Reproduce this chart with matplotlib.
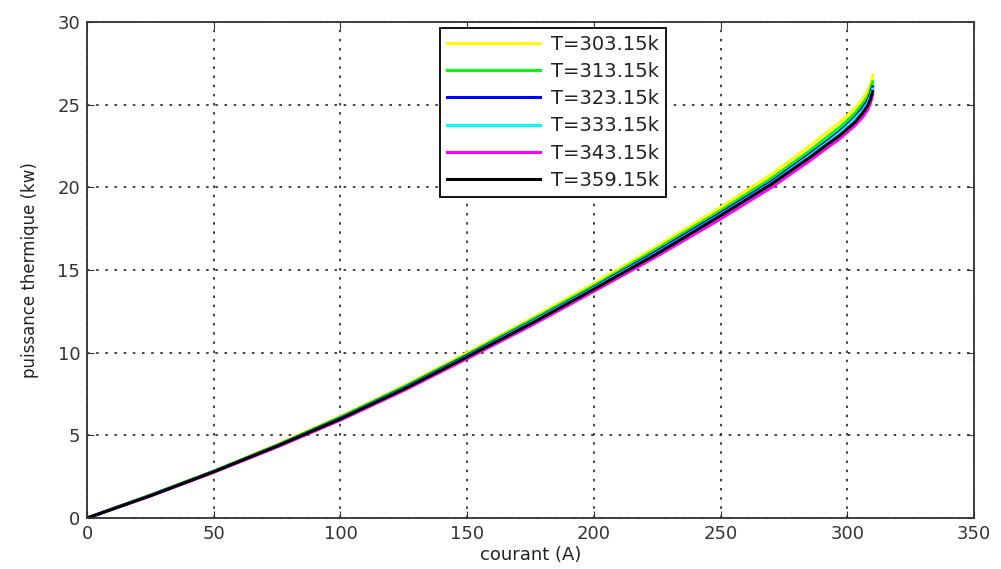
import matplotlib
matplotlib.use("Agg")
import matplotlib.pyplot as plt

plt.rcParams['font.family'] = ['DejaVu Sans']

courant = [0, 25, 50, 75, 100, 125, 150, 175, 200, 225, 250, 270, 285, 292, 297, 300, 303, 306, 308, 309, 310]

p_303 = [0, 1.40, 2.85, 4.45, 6.15, 8.00, 10.00, 12.05, 14.20, 16.45, 18.80, 20.80, 22.50, 23.35, 23.95, 24.35, 24.80, 25.35, 25.85, 26.20, 26.80]
p_313 = [0, 1.38, 2.83, 4.40, 6.10, 7.93, 9.90, 11.95, 14.05, 16.30, 18.60, 20.55, 22.20, 23.05, 23.65, 24.05, 24.50, 25.05, 25.50, 25.85, 26.40]
p_323 = [0, 1.37, 2.82, 4.38, 6.05, 7.87, 9.83, 11.85, 13.95, 16.15, 18.45, 20.35, 22.00, 22.80, 23.40, 23.80, 24.25, 24.80, 25.25, 25.60, 26.10]
p_333 = [0, 1.36, 2.81, 4.36, 6.02, 7.83, 9.78, 11.80, 13.90, 16.05, 18.35, 20.25, 21.90, 22.70, 23.30, 23.70, 24.15, 24.65, 25.10, 25.45, 25.95]
p_343 = [0, 1.33, 2.77, 4.30, 5.93, 7.72, 9.65, 11.63, 13.72, 15.85, 18.10, 20.00, 21.60, 22.40, 22.95, 23.35, 23.75, 24.25, 24.70, 25.05, 25.60]
p_359 = [0, 1.35, 2.80, 4.35, 6.00, 7.80, 9.75, 11.75, 13.85, 16.00, 18.30, 20.20, 21.80, 22.60, 23.15, 23.55, 23.95, 24.50, 24.95, 25.30, 25.80]

labels = ["T=303.15k", "T=313.15k", "T=323.15k", "T=333.15k", "T=343.15k", "T=359.15k"]
series = [p_303, p_313, p_323, p_333, p_343, p_359]
colors = ["#ffff00", "#00ff00", "#0000ff", "#00ffff", "#ff00ff", "#000000"]

fig = plt.figure(figsize=(10.01, 5.69), dpi=100)
ax = fig.add_axes([0.087, 0.0896, 0.886, 0.8714])

for y, c, lab in zip(series, colors, labels):
    ax.plot(courant, y, color=c, lw=2.2, label=lab)

ax.set_xlim(0, 350)
ax.set_ylim(0, 30)
ax.set_xticks(range(0, 351, 50))
ax.set_yticks(range(0, 31, 5))
ax.grid(True, color="#222222", linestyle=(0, (1.5, 4)), linewidth=1.2)
ax.tick_params(direction="in", length=5, labelsize=13, top=True, right=True,
               colors="#333333", labelcolor="#333333", pad=5)
for s in ax.spines.values():
    s.set_linewidth(1.3)
    s.set_color("#333333")

ax.set_xlabel("courant (A)", fontsize=13, labelpad=2, color="#222222")
ax.set_ylabel("puissance thermique (kw)", fontsize=12, labelpad=13, color="#222222")

leg = ax.legend(loc="upper left", bbox_to_anchor=(0.398, 0.988), fontsize=14,
                fancybox=False, framealpha=1, edgecolor="black", handlelength=4.8,
                handletextpad=0.55, borderpad=0.35, labelspacing=0.42, borderaxespad=0)
leg.get_frame().set_linewidth(1.3)
for t in leg.get_texts():
    t.set_color("#222222")

plt.savefig("out.png", dpi=100)
